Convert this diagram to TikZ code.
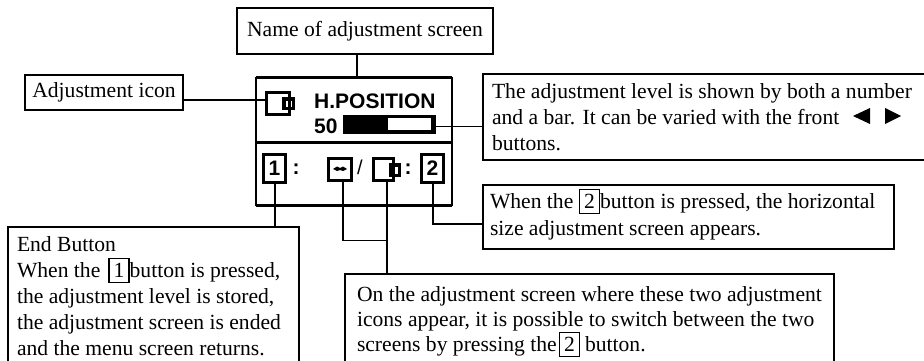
\documentclass[tikz,border=0pt]{standalone}
\usepackage{fontspec}
\setmainfont{Liberation Serif}
\setsansfont{Liberation Sans}
\usetikzlibrary{positioning}
\newcommand{\keybox}[1]{\tikz[baseline={([yshift=5.5pt]k.south)}]\node[draw, line width=1.3pt, minimum width=20pt, minimum height=24pt, inner sep=0pt, outer sep=0pt] (k) {#1};}
\newcommand{\firstline}[1]{\rule{0pt}{#1}}
\tikzset{
  notebox/.style={draw, line width=1.2pt, anchor=north west, inner ysep=0pt, outer sep=0pt, align=flush left, font=\fontsize{21.6}{26}\selectfont},
  tagbox/.style={draw, line width=1.2pt, anchor=north west, inner sep=0pt, outer sep=0pt, font=\fontsize{21.6}{26}\selectfont},
  leader/.style={line width=1.2pt},
  iconbox/.style={draw, line width=3pt, inner sep=0pt, outer sep=0pt},
  osdkey/.style={iconbox, minimum width=22pt, minimum height=28pt, font=\sffamily\bfseries\fontsize{21}{21}\selectfont},
  osdtext/.style={inner sep=0pt, font=\sffamily\bfseries\fontsize{21}{21}\selectfont},
}
\begin{document}
\begin{tikzpicture}[x=1pt, y=-1pt]
  \useasboundingbox (0,0) rectangle (924,361);

  % ---- Callout boxes ----
  \node[tagbox, minimum width=256pt, minimum height=46pt] (namebox) at (237,8) {Name of adjustment screen};
  \node[tagbox, minimum width=158pt, minimum height=35pt] (tagicon) at (25,75) {Adjustment icon};
  \node[notebox, inner xsep=9pt, text width=427pt, text depth=61pt] (levelbox) at (483,74)
    {\firstline{25pt}The adjustment level is shown by both a number\\and a bar. It can be varied with the front\\buttons.};
  \node[notebox, inner xsep=7pt, text width=397pt, text depth=41pt, font=\fontsize{21.6}{27}\selectfont] (sizebox) at (483,185)
    {\firstline{23pt}When the \keybox{2}button is pressed, the horizontal\\size adjustment screen appears.};
  \node[notebox, inner xsep=9pt, text width=273pt, text depth=116pt] (endbox) at (8,227)
    {\firstline{24pt}End Button\\When the\hspace{8pt}\keybox{1}button is pressed,\\the adjustment level is stored,\\the adjustment screen is ended\\and the menu screen returns.};
  \node[notebox, inner xsep=12pt, text width=465pt, text depth=65pt, font=\fontsize{21.6}{25}\selectfont] (pairbox) at (345,274)
    {\firstline{27pt}On the adjustment screen where these two adjustment\\icons appear, it is possible to switch between the two\\screens by pressing the\hspace{2pt}\keybox{2}\hspace{5pt}button.};

  % ---- Arrow glyphs of the level box ----
  \fill (853,116) -- (870,108) -- (870,124) -- cycle;
  \fill (901,116) -- (885,108) -- (885,124) -- cycle;

  % ---- Screen ----
  \node[draw, line width=1.8pt, anchor=north west, minimum width=196pt, minimum height=127pt, inner sep=0pt, outer sep=0pt] (screen) at (256,78) {};
  \draw[line width=3pt] (screen.north west) -- (screen.north east);
  \draw[line width=3pt] (screen.west |- 0,142) -- (screen.east |- 0,142);
  \draw[line width=3pt] (screen.south west) -- (screen.south east);

  % ---- Screen top row ----
  \node[iconbox, minimum width=23pt, minimum height=22pt] (adjicon) at (278,103.5) {};
  \node[iconbox, line width=3.5pt, minimum width=9.5pt, minimum height=9.5pt] (adjtab) at (288.5,103.5) {};
  \node[osdtext, anchor=base west] (title) at (314,108) {H.POSITION};
  \node[osdtext, anchor=base west] (value) at (314,133) {50};
  \node[fill=black, minimum width=93pt, minimum height=19pt, anchor=north west, inner sep=0pt, outer sep=0pt] (levelbar) at (343,115) {};
  \fill[white] (388,118) rectangle (431,130);

  % ---- Screen bottom row ----
  \node[osdkey] (keyone) at (274.5,168.5) {1};
  \node[osdtext] (colonone) at (296,169) {:};
  \node[iconbox, minimum width=23pt, minimum height=22pt] (backicon) at (340,169.5) {};
  \fill (333,169) -- (337,166.5) -- (340,168) -- (343,166.5) -- (347,169) -- (343,171) -- (340,170) -- (337,171) -- cycle;
  \node[inner sep=0pt, font=\sffamily\fontsize{20}{20}\selectfont] (slash) at (360,167) {/};
  \node[iconbox, minimum width=20pt, minimum height=22pt] (nexticon) at (383.5,169.5) {};
  \node[iconbox, line width=3.5pt, minimum width=8.5pt, minimum height=10.5pt] (nexttab) at (395,170) {};
  \node[osdtext] (colontwo) at (408,169) {:};
  \node[osdkey] (keytwo) at (432.5,168.5) {2};

  % ---- Leaders ----
  \draw[leader] (namebox.south -| 357,0) -- (screen.north -| 357,0);
  \draw[leader] (tagicon.east |- 0,100) -- (adjicon.west |- 0,100);
  \draw[leader] (levelbar.east |- 0,126.5) -- (levelbox.west |- 0,126.5);
  \draw[leader] (keyone.south -| 275,0) -- (endbox.north -| 275,0);
  \draw[leader] (keytwo.south -| 433,0) -- (433,224) -- (sizebox.west |- 0,224);
  \draw[leader] (backicon.south -| 343,0) -- (343,240.5) -- (387,240.5);
  \draw[leader] (nexticon.south -| 387,0) -- (pairbox.north -| 387,0);
\end{tikzpicture}
\end{document}
